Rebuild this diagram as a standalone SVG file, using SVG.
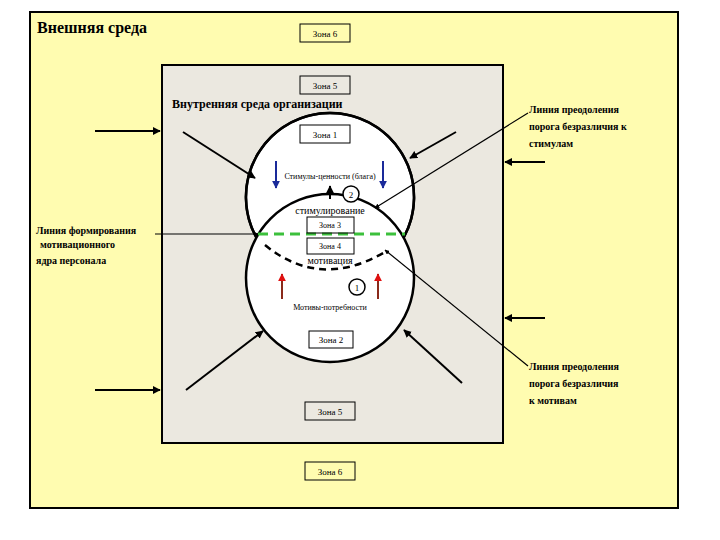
<svg xmlns="http://www.w3.org/2000/svg" width="720" height="540" viewBox="0 0 720 540">
<style>
.t{font-family:"Liberation Serif",serif;fill:#000}
.z{font-size:9px}
.bx{fill:none;stroke:#000;stroke-width:1}
.ln{stroke:#000;stroke-width:2;fill:none}
.th{stroke:#000;stroke-width:1.2;fill:none}
.lb{font-size:10px;font-weight:bold}
</style>
<defs>
<marker id="a" viewBox="0 0 10 10" refX="9" refY="5" markerWidth="4" markerHeight="4" orient="auto"><path d="M0,0L10,5L0,10z" fill="#000"/></marker>
<marker id="ab" viewBox="0 0 10 10" refX="9" refY="5" markerWidth="4" markerHeight="4" orient="auto"><path d="M0,0L10,5L0,10z" fill="#1a2a9a"/></marker>
<marker id="ar" viewBox="0 0 10 10" refX="9" refY="5" markerWidth="4" markerHeight="4" orient="auto"><path d="M0,0L10,5L0,10z" fill="#e01010"/></marker>
</defs>
<rect width="720" height="540" fill="#fff"/>
<g id="outer"><rect x="30" y="12" width="648" height="496" fill="#fffcb0" stroke="#000" stroke-width="2"/>
<text class="t" x="37" y="33" font-size="16" font-weight="bold">Внешняя среда</text></g>
<g id="inner"><rect x="162" y="65" width="341" height="378" fill="#ebe8e0" stroke="#000" stroke-width="2"/>
<text class="t" x="172" y="108" font-size="12" font-weight="bold">Внутренняя среда организации</text></g>
<g id="circles">
<circle cx="330" cy="197" r="84" fill="#fff" stroke="#000" stroke-width="2.5"/>
<circle cx="330" cy="278" r="84" fill="#fff" stroke="#000" stroke-width="2.5"/>
<path d="M330,113 A84,84 0 0 1 404,237" fill="none" stroke="#000" stroke-width="2.5"/>
<path d="M330,113 A84,84 0 0 0 256,237" fill="none" stroke="#000" stroke-width="2.5"/>
</g>
<g id="lines">
<line x1="258" y1="234" x2="405" y2="234" stroke="#3cc03c" stroke-width="3" stroke-dasharray="10,6"/>
<path d="M265,245 Q320,290 385,252" stroke="#000" stroke-width="2.5" fill="none" stroke-dasharray="7,5"/>
</g>
<g id="connectors">
<line class="ln" x1="95" y1="131" x2="160" y2="131" marker-end="url(#a)"/>
<line class="ln" x1="95" y1="390" x2="160" y2="390" marker-end="url(#a)"/>
<line class="ln" x1="545" y1="162" x2="505" y2="162" marker-end="url(#a)"/>
<line class="ln" x1="545" y1="318" x2="505" y2="318" marker-end="url(#a)"/>
<line class="ln" x1="183" y1="132" x2="255" y2="178" marker-end="url(#a)"/>
<line class="ln" x1="456" y1="132" x2="410" y2="158" marker-end="url(#a)"/>
<line class="ln" x1="186" y1="390" x2="263" y2="331" marker-end="url(#a)"/>
<line class="ln" x1="462" y1="383" x2="404" y2="330" marker-end="url(#a)"/>
<line class="th" x1="528" y1="113" x2="375" y2="208" marker-end="url(#a)"/>
<line class="th" x1="528" y1="366" x2="385" y2="250" marker-end="url(#a)"/>
<line class="th" x1="155" y1="234" x2="258" y2="234" marker-end="url(#a)"/>
<line x1="276" y1="161" x2="276" y2="188" stroke="#1a2a9a" stroke-width="2" marker-end="url(#ab)"/>
<line x1="383" y1="161" x2="383" y2="188" stroke="#1a2a9a" stroke-width="2" marker-end="url(#ab)"/>
<line class="ln" x1="330" y1="199" x2="330" y2="186" marker-end="url(#a)"/>
<line x1="282" y1="299" x2="282" y2="274" stroke="#8a2a1a" stroke-width="2" marker-end="url(#ar)"/>
<line x1="378" y1="299" x2="378" y2="274" stroke="#8a2a1a" stroke-width="2" marker-end="url(#ar)"/>
</g>
<g id="zones">
<rect class="bx" x="300" y="24" width="50" height="18" fill="#fffcb0"/><text class="t z" x="325" y="37" text-anchor="middle">Зона 6</text>
<rect class="bx" x="300" y="76" width="50" height="18" fill="#ebe8e0"/><text class="t z" x="325" y="89" text-anchor="middle">Зона 5</text>
<rect class="bx" x="300" y="125" width="50" height="18"/><text class="t z" x="325" y="138" text-anchor="middle">Зона 1</text>
<rect class="bx" x="307" y="217" width="47" height="16" fill="#fff"/><text class="t" font-size="8" x="330" y="228" text-anchor="middle">Зона 3</text>
<rect class="bx" x="307" y="238" width="47" height="16" fill="#fff"/><text class="t" font-size="8" x="330" y="249" text-anchor="middle">Зона 4</text>
<rect class="bx" x="309" y="331" width="44" height="17"/><text class="t z" x="331" y="343" text-anchor="middle">Зона 2</text>
<rect class="bx" x="305" y="402" width="50" height="18"/><text class="t z" x="330" y="415" text-anchor="middle">Зона 5</text>
<rect class="bx" x="305" y="462" width="50" height="18"/><text class="t z" x="330" y="475" text-anchor="middle">Зона 6</text>
</g>
<g id="labels">
<text class="t" font-size="8" x="330" y="179" text-anchor="middle">Стимулы-ценности (блага)</text>
<circle cx="351" cy="194" r="8" fill="#fff" stroke="#000" stroke-width="1.5"/><text class="t z" x="351" y="197.5" text-anchor="middle">2</text>
<text class="t" font-size="10" x="330" y="214" text-anchor="middle">стимулирование</text>
<text class="t" font-size="10" x="330" y="264" text-anchor="middle">мотивация</text>
<circle cx="357" cy="287" r="8" fill="#fff" stroke="#000" stroke-width="1.5"/><text class="t z" x="357" y="290.5" text-anchor="middle">1</text>
<text class="t" font-size="8" x="330" y="310" text-anchor="middle">Мотивы-потребности</text>
<text class="t lb" x="36" y="234">Линия формирования</text>
<text class="t lb" x="40" y="248">мотивационного</text>
<text class="t lb" x="36" y="264">ядра персонала</text>
<text class="t lb" x="529" y="113">Линия преодоления</text>
<text class="t lb" x="529" y="130">порога безразличия к</text>
<text class="t lb" x="529" y="147">стимулам</text>
<text class="t lb" x="529" y="370">Линия преодоления</text>
<text class="t lb" x="529" y="387">порога безразличия</text>
<text class="t lb" x="529" y="404">к мотивам</text>
</g>
</svg>
